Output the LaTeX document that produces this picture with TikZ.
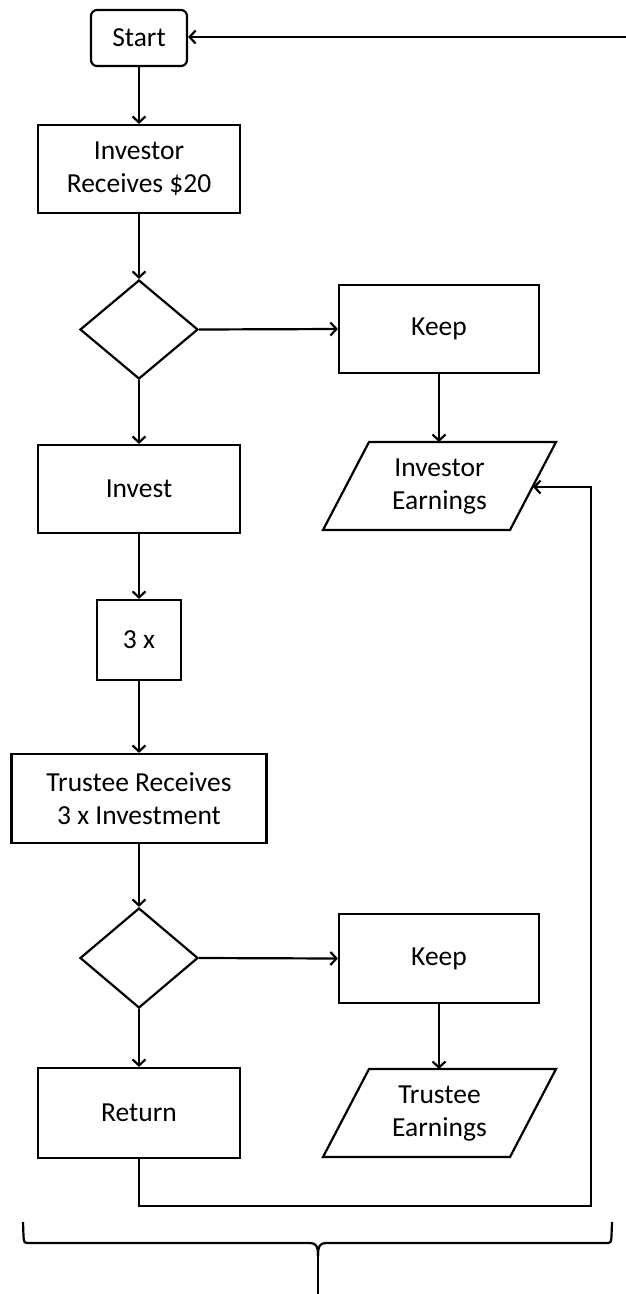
\documentclass[tikz,border=0pt]{standalone}
\usepackage{fontspec}
\setmainfont{Carlito}
\usetikzlibrary{shapes.geometric,arrows.meta}
\begin{document}
\begin{tikzpicture}[x=1pt,y=-1pt,
  line width=2.2pt,
  every node/.style={font=\fontsize{27.5}{33}\selectfont, align=center, inner sep=0pt},
  box/.style={draw, rectangle, minimum width=#1, minimum height=88pt},
  startbox/.style={draw, rectangle, rounded corners=6pt, minimum width=96pt, minimum height=56pt},
  dec/.style={draw, diamond, minimum width=118pt, minimum height=99pt},
  arr/.style={-{Straight Barb[length=6pt,width=13pt]}}
]
\useasboundingbox (0,0) rectangle (626,1294);

% nodes
\node[startbox] (start) at (139,38) {Start};
\node[box=202pt] (recv) at (139,169) {Investor\\Receives \$20};
\node[dec] (d1) at (139,329.5) {};
\node[box=200pt] (keep1) at (439,329) {Keep};
\node (ie) at (439.5,487) {Investor\\Earnings};
\draw (369,442) -- (556,442) -- (510,530) -- (323,530) -- cycle;
\coordinate (ieR) at (533,487);
\coordinate (ieT) at (439,442);
\node[box=202pt] (invest) at (139,489) {Invest};
\node[draw, rectangle, minimum width=84pt, minimum height=80pt] (three) at (139,640) {3 x};
\node[draw, rectangle, minimum width=255pt, minimum height=89pt] (trec) at (139,798.5) {Trustee Receives\\3 x Investment};
\node[dec, minimum height=100pt] (d2) at (139,958) {};
\node[draw, rectangle, minimum width=200pt, minimum height=89pt] (keep2) at (439,958.5) {Keep};
\node (te) at (439.5,1114) {Trustee\\Earnings};
\draw (369,1069) -- (556,1069) -- (510,1157) -- (323,1157) -- cycle;
\coordinate (teT) at (439,1069);
\node[draw, rectangle, minimum width=202pt, minimum height=90pt] (ret) at (139,1113) {Return};

% connectors
\draw[arr] (start.south) -- (recv.north);
\draw[arr] (recv.south) -- (d1.north);
\draw[arr] (d1.east) -- (keep1.west);
\draw[arr] (keep1.south) -- (ieT);
\draw[arr] (d1.south) -- (invest.north);
\draw[arr] (invest.south) -- (three.north);
\draw[arr] (three.south) -- (trec.north);
\draw[arr] (trec.south) -- (d2.north);
\draw[arr] (d2.east) -- (keep2.west);
\draw[arr] (keep2.south) -- (teT);
\draw[arr] (d2.south) -- (ret.north);

\coordinate (loopA) at (591,1206);
\coordinate (loopB) at (591,487);
\draw[arr] (ret.south) -- (ret.south |- loopA) -- (loopA) -- (loopB) -- (ieR);

% brace
\coordinate (bt) at (318,1256);
\draw (23,1222) -- (23.5,1236) .. controls (24,1243) .. (30,1243) -- (310,1243)
  .. controls (316,1243) and (318,1246) .. (bt);
\draw (612,1222) -- (611.5,1236) .. controls (611,1243) .. (605,1243) -- (326,1243)
  .. controls (320,1243) and (318,1246) .. (bt);

% outer loop back to start
\coordinate (bb) at (318,1294.6);
\coordinate (br) at (650,1294.6);
\coordinate (tr) at (650,37);
\draw[arr] (bt) -- (bb) -- (br) -- (tr) -- (tr -| start.east);
\end{tikzpicture}
\end{document}
